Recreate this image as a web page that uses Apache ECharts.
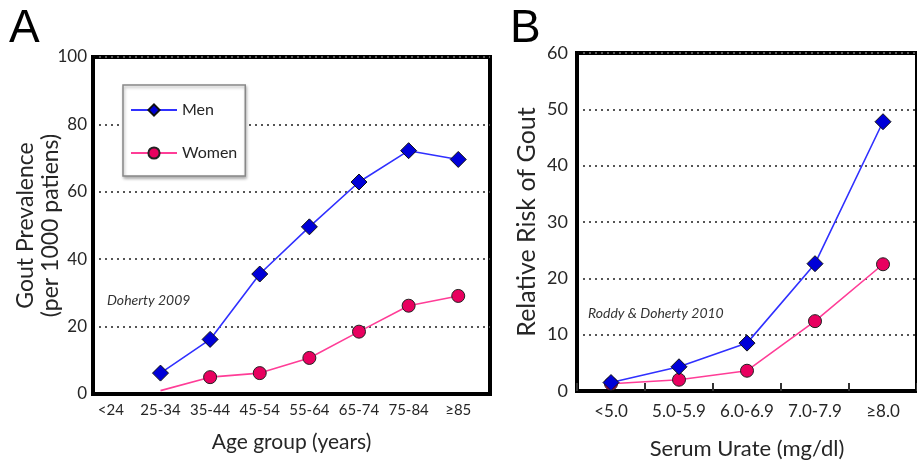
<!DOCTYPE html>
<html>
<head>
<meta charset="utf-8">
<script src="https://cdn.jsdelivr.net/npm/echarts@6/dist/echarts.min.js"></script>
<style>html,body{margin:0;padding:0;background:#fff}#c{width:917px;height:465px}</style>
</head>
<body>
<div id="c"></div>
<script>
// ---- Data ----
const ageGroups = ['<24', '25-34', '35-44', '45-54', '55-64', '65-74', '75-84', '≥85'];
const menPrevalence = [null, 6.2, 16.2, 35.6, 49.6, 62.9, 72.2, 69.6];
const womenPrevalence = [null, 1.0, 5.0, 6.2, 10.7, 18.5, 26.2, 29.1];
const womenHiddenMarker = ['25-34'];
const urateGroups = ['<5.0', '5.0-5.9', '6.0-6.9', '7.0-7.9', '≥8.0'];
const menRisk = [1.5, 4.3, 8.5, 22.6, 47.8];
const womenRisk = [1.3, 2.0, 3.6, 12.4, 22.5];
const yTicksA = [0, 20, 40, 60, 80, 100];
const yTicksB = [0, 10, 20, 30, 40, 50, 60];

const FONT = 'Lato, "Open Sans", sans-serif';
const TXT = '#262626';
const MEN_LINE = '#3030ff', MEN_FILL = '#0000d8';
const WOMEN_LINE = '#ff3d97', WOMEN_FILL = '#e8005f';

function pairs(vals, hidden) {
  const out = [];
  vals.forEach((v, i) => {
    if (v === null) return;
    if (hidden && hidden.includes(ageGroups[i])) out.push({ value: [i, v], symbol: 'none' });
    else out.push([i, v]);
  });
  return out;
}

const menStyle = {
  symbol: 'diamond', symbolSize: 16,
  lineStyle: { color: MEN_LINE, width: 1.6 },
  itemStyle: { color: MEN_FILL, borderColor: '#111', borderWidth: 1 }
};
const womenStyle = {
  symbol: 'circle', symbolSize: 13,
  lineStyle: { color: WOMEN_LINE, width: 1.6 },
  itemStyle: { color: WOMEN_FILL, borderColor: '#222', borderWidth: 1 }
};

const splitDotted = { show: true, lineStyle: { type: [2, 4], color: '#555', width: 2 } };

const chart = echarts.init(document.getElementById('c'));
chart.setOption({
  animation: false,
  backgroundColor: '#fff',
  textStyle: { fontFamily: FONT },
  legend: {
    data: ['Men', 'Women'],
    orient: 'vertical',
    left: 123, top: 85,
    padding: [17, 8, 15, 7],
    itemGap: 27,
    itemWidth: 46, itemHeight: 14,
    backgroundColor: '#fff',
    borderColor: '#888', borderWidth: 1.5,
    shadowBlur: 3, shadowColor: 'rgba(0,0,0,0.3)', shadowOffsetX: 1, shadowOffsetY: 2,
    textStyle: { fontSize: 16, color: TXT, fontFamily: FONT }
  },
  grid: [
    { left: 93, top: 57, right: 427, bottom: 71, show: true, borderColor: '#000', borderWidth: 4, containLabel: false },
    { left: 577, top: 53, right: -10, bottom: 70, show: true, borderColor: '#000', borderWidth: 4, containLabel: false }
  ],
  xAxis: [
    {
      gridIndex: 0, type: 'value', min: -0.36, max: 7.64,
      axisLine: { show: true, onZero: false, lineStyle: { color: '#000', width: 4 } },
      axisTick: { show: false },
      splitLine: { show: false },
      axisLabel: {
        customValues: ageGroups.map((_, i) => i),
        formatter: v => ageGroups[Math.round(v)],
        fontSize: 15, color: TXT, margin: 9, fontFamily: FONT
      },
      name: 'Age group (years)', nameLocation: 'middle', nameGap: 38,
      nameTextStyle: { fontSize: 21, color: TXT, fontFamily: FONT }
    },
    {
      gridIndex: 1, type: 'category', data: urateGroups, boundaryGap: true,
      axisLine: { show: true, onZero: false, lineStyle: { color: '#000', width: 4 } },
      axisTick: { show: true, inside: true, length: 8, lineStyle: { color: '#333', width: 2 } },
      splitLine: { show: false },
      axisLabel: { interval: 0, fontSize: 17, color: TXT, margin: 12, fontFamily: FONT },
      name: 'Serum Urate (mg/dl)', nameLocation: 'middle', nameGap: 47,
      nameTextStyle: { fontSize: 22, color: TXT, fontFamily: FONT }
    }
  ],
  yAxis: [
    {
      gridIndex: 0, type: 'value', min: yTicksA[0], max: yTicksA[yTicksA.length - 1], interval: 20,
      axisLine: { show: true, onZero: false, lineStyle: { color: '#000', width: 4 } },
      axisTick: { show: false },
      splitLine: splitDotted,
      axisLabel: { fontSize: 17, color: TXT, margin: 6, fontFamily: FONT },
      name: 'Gout Prevalence\n(per 1000 patiens)', nameLocation: 'middle', nameGap: 30,
      nameMoveOverlap: false,
      nameTextStyle: { fontSize: 23, color: TXT, lineHeight: 25, fontFamily: FONT }
    },
    {
      gridIndex: 1, type: 'value', min: yTicksB[0], max: yTicksB[yTicksB.length - 1], interval: 10,
      axisLine: { show: true, onZero: false, lineStyle: { color: '#000', width: 4 } },
      axisTick: { show: false },
      splitLine: splitDotted,
      axisLabel: { fontSize: 18, color: TXT, margin: 9, fontFamily: FONT },
      name: 'Relative Risk of Gout', nameLocation: 'middle', nameGap: 38,
      nameTextStyle: { fontSize: 25, color: TXT, fontFamily: FONT }
    }
  ],
  series: [
    Object.assign({ name: 'Women', type: 'line', xAxisIndex: 0, yAxisIndex: 0, data: pairs(womenPrevalence, womenHiddenMarker), z: 3 }, womenStyle),
    Object.assign({ name: 'Men', type: 'line', xAxisIndex: 0, yAxisIndex: 0, data: pairs(menPrevalence), z: 4 }, menStyle),
    Object.assign({ name: 'Women', type: 'line', xAxisIndex: 1, yAxisIndex: 1, data: womenRisk, z: 3 }, womenStyle),
    Object.assign({ name: 'Men', type: 'line', xAxisIndex: 1, yAxisIndex: 1, data: menRisk, z: 4 }, menStyle)
  ],
  graphic: [
    { type: 'text', left: 9, top: 6, style: { text: 'A', fontSize: 46, fill: '#000', fontFamily: 'Liberation Sans, sans-serif' } },
    { type: 'text', left: 510, top: 6, style: { text: 'B', fontSize: 46, fill: '#000', fontFamily: 'Liberation Sans, sans-serif' } },
    { type: 'text', left: 107, top: 293, style: { text: 'Doherty 2009', fontSize: 14, fontStyle: 'italic', fill: '#333', fontFamily: FONT } },
    { type: 'text', left: 588, top: 306, style: { text: 'Roddy & Doherty 2010', fontSize: 14, fontStyle: 'italic', fill: '#333', fontFamily: FONT } }
  ]
});
</script>
</body>
</html>
